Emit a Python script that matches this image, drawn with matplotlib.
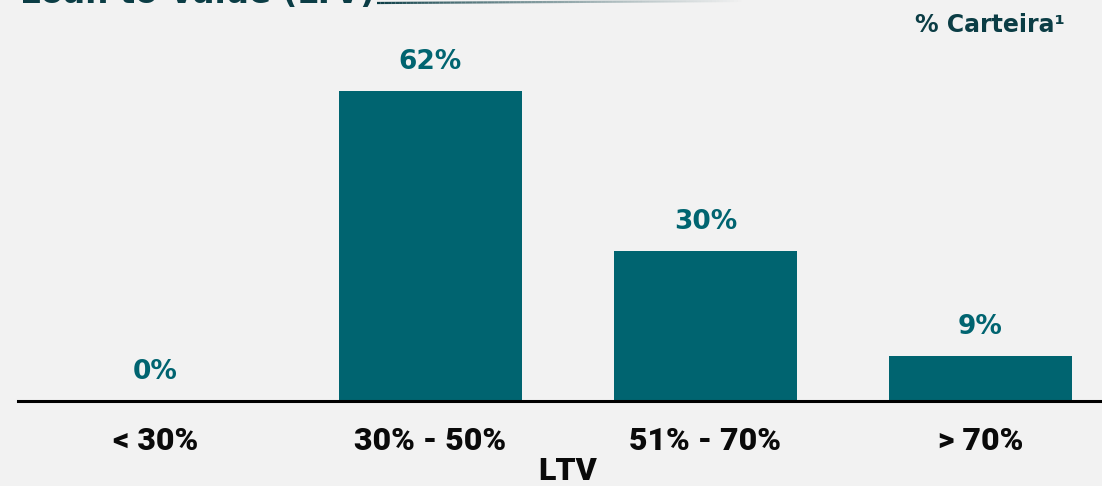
import matplotlib
matplotlib.use("Agg")
import matplotlib.pyplot as plt
import numpy as np
from matplotlib.collections import LineCollection

categories = ["< 30%", "30% - 50%", "51% - 70%", "> 70%"]
values = [0, 62, 30, 9]
value_labels = ["0%", "62%", "30%", "9%"]
title = "Loan to Value (LTV)"
xlabel = "LTV"
unit_label = "% Carteira¹"

bg = "#f2f2f2"
bar_color = "#006470"
dark = "#0b3d45"

fig = plt.figure(figsize=(11.02, 4.86), dpi=100, facecolor=bg)
ax = fig.add_axes([18/1102, 85/486, 1 - 18/1102, 401/486])
ax.set_facecolor(bg)
x = np.arange(len(categories))
ax.bar(x, values, width=0.665, color=bar_color)
ax.set_xlim(-0.5, 3.442)
ax.set_ylim(0, 80.2)
for xi, v, lab in zip(x, values, value_labels):
    ax.text(xi, v + 5.8, lab, ha="center", va="center", fontsize=19,
            fontweight="heavy", color=bar_color, family="DejaVu Sans")
for s in ["top", "right", "left"]:
    ax.spines[s].set_visible(False)
ax.spines["bottom"].set_linewidth(2.2)
ax.spines["bottom"].set_color("black")
ax.set_yticks([])
ax.set_xticks(x)
ax.set_xticklabels(categories, fontsize=23, fontweight="heavy", family="Roboto", color="#0a0a0a")
ax.tick_params(axis="x", length=0, pad=18)
fig.text(568/1102, 1 - 471/486, xlabel, ha="center", va="center", fontsize=23,
         fontweight="heavy", family="Roboto", color="#0a0a0a")
fig.text(1065/1102, 1 - 25/486, unit_label, ha="right", va="center", fontsize=17,
         fontweight="bold", family="DejaVu Sans", color=dark)
fig.text(20/1102, 1 - 3/486, title, ha="left", va="baseline", fontsize=23.5,
         fontweight="bold", family="DejaVu Sans", color=dark)

# gradient line
n = 100
xs = np.linspace(377/1102, 745/1102, n + 1)
ys = np.linspace(1 - 3/486, 1 - 1/486, n + 1)
segs = [[(xs[i], ys[i]), (xs[i+1], ys[i+1])] for i in range(n)]
alphas = np.clip(1 - np.linspace(0, 1, n) ** 0.8, 0, 1)
cols = [(11/255, 61/255, 69/255, a) for a in alphas]
lc = LineCollection(segs, colors=cols, linewidths=1.6, transform=fig.transFigure)
fig.add_artist(lc)

fig.savefig("out.png", dpi=100, facecolor=bg)
